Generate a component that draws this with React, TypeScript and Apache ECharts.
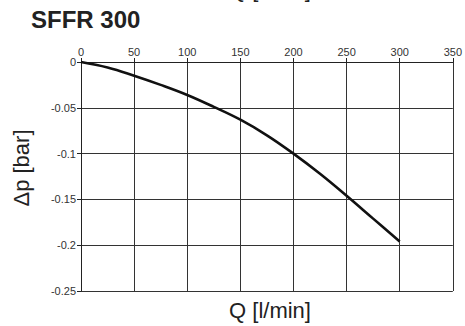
import React, { useEffect, useRef } from "react";
import * as echarts from "echarts";

const flowQ = [0, 25, 50, 75, 100, 125, 150, 175, 200, 225, 250, 275, 300];
const deltaP = [0, -0.006, -0.015, -0.025, -0.036, -0.049, -0.063, -0.08, -0.1, -0.122, -0.146, -0.171, -0.196];
const xTicks = [0, 50, 100, 150, 200, 250, 300, 350];
const yTicks = [0, -0.05, -0.1, -0.15, -0.2, -0.25];
const title = "SFFR 300";
const xName = "Q [l/min]";
const yName = "Δp [bar]";

export default function App() {
  const ref = useRef<HTMLDivElement>(null);
  useEffect(() => {
    if (!ref.current) return;
    const chart = echarts.init(ref.current, undefined, { renderer: "svg" });
    const font = "Liberation Sans, Arial, sans-serif";
    chart.setOption({
      animation: false,
      backgroundColor: "#fff",
      grid: { left: 81, right: 11, top: 62, bottom: 35 },
      xAxis: {
        type: "value",
        position: "top",
        min: xTicks[0],
        max: xTicks[xTicks.length - 1],
        interval: 50,
        axisLine: { show: true, lineStyle: { color: "#222", width: 1 } },
        axisTick: { show: true, length: 4, lineStyle: { color: "#222" } },
        axisLabel: { color: "#333", fontSize: 11, fontFamily: font, margin: 5 },
        splitLine: { show: true, lineStyle: { color: "#333", width: 1 } },
      },
      yAxis: {
        type: "value",
        min: yTicks[yTicks.length - 1],
        max: yTicks[0],
        interval: 0.05,
        axisLine: { show: true, onZero: false, lineStyle: { color: "#222", width: 1 } },
        axisTick: { show: true, length: 4, lineStyle: { color: "#222" } },
        axisLabel: { color: "#333", fontSize: 11, fontFamily: font, margin: 5 },
        splitLine: { show: true, lineStyle: { color: "#333", width: 1 } },
      },
      series: [
        {
          type: "line",
          data: flowQ.map((q, i) => [q, deltaP[i]]),
          smooth: 0.4,
          symbol: "none",
          lineStyle: { color: "#111", width: 2.6 },
        },
      ],
      graphic: [
        {
          type: "text",
          left: 31,
          top: 7,
          style: { text: title, fontSize: 24, fontWeight: "bold", fontFamily: font, fill: "#222" },
        },
        {
          type: "text",
          x: 270,
          y: 310,
          style: { text: xName, fontSize: 22, fontFamily: font, fill: "#222", align: "center", verticalAlign: "middle" },
        },
        {
          type: "text",
          x: 270,
          y: -11,
          style: { text: xName, fontSize: 22, fontFamily: font, fill: "#222", align: "center", verticalAlign: "middle" },
        },
        {
          type: "text",
          x: 21,
          y: 168,
          rotation: Math.PI / 2,
          style: { text: yName, fontSize: 22, fontFamily: font, fill: "#222", align: "center", verticalAlign: "middle" },
        },
      ],
    });
    return () => chart.dispose();
  }, []);
  return <div ref={ref} style={{ position: "fixed", left: 0, top: 0, width: 465, height: 326 }} />;
}
